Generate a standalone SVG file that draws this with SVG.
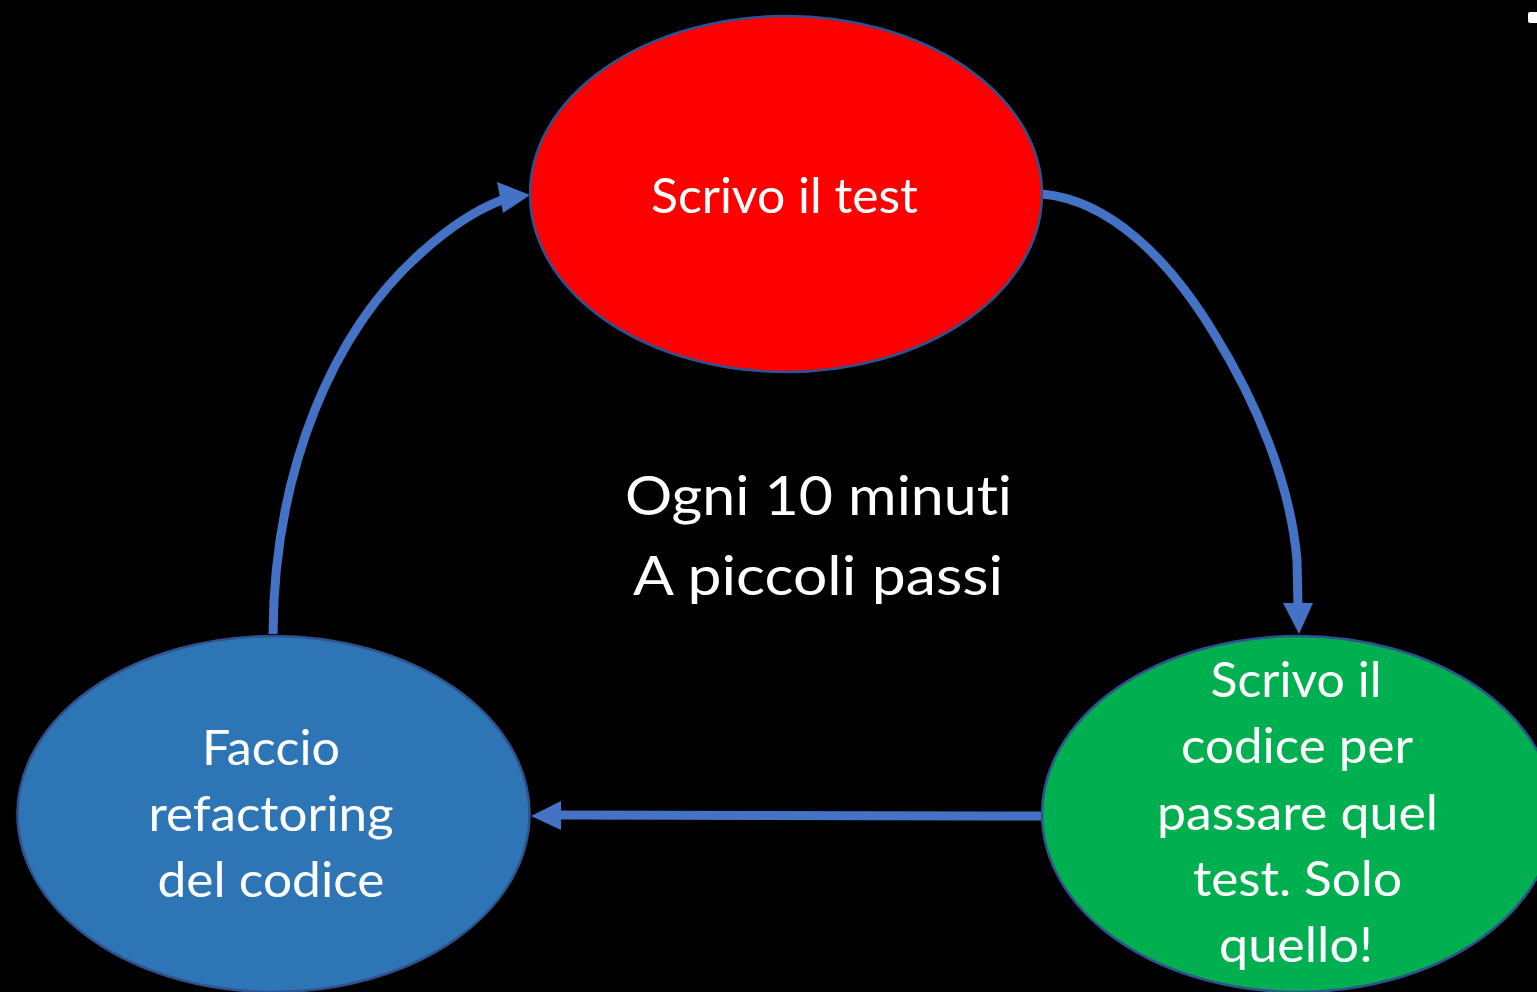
<svg xmlns="http://www.w3.org/2000/svg" width="1537" height="992" viewBox="0 0 1537 992">
<style>
.node{stroke:#2F528F;stroke-width:2.5}
.lbl{font-family:Lato,"Open Sans","Liberation Sans",sans-serif;fill:#FFFFFF;text-anchor:middle;font-size:48px;font-variant-ligatures:none;font-feature-settings:"liga" 0,"clig" 0}
.big{font-size:54px}
.conn{fill:none;stroke:#4472C4;stroke-width:9}
.head{fill:#4472C4}
</style>
<rect x="0" y="0" width="1537" height="992" fill="#000000"/>
<rect x="1528" y="12" width="12" height="11" rx="2" fill="#FFFFFF"/>
<g id="connectors">
  <path class="conn" d="M273,634 C274,470 333,330 422,252 C452,225 481,208 502,200"/>
  <polygon class="head" points="530,195 497,182 503,213"/>
  <path class="conn" d="M1042,194 C1110,200 1170,260 1215,335 C1255,400 1290,480 1297,560 L1298,606"/>
  <polygon class="head" points="1299,634 1283,603 1313,603"/>
  <path class="conn" d="M1042,816 L1000,816 L558,815"/>
  <polygon class="head" points="531,816 561,801 561,830"/>
</g>
<g id="node-test">
  <ellipse class="node" cx="786" cy="194" rx="256" ry="178" fill="#FF0000"/>
  <text class="lbl" x="784.5" y="213" textLength="267" lengthAdjust="spacingAndGlyphs">Scrivo il test</text>
</g>
<g id="node-refactor">
  <ellipse class="node" cx="273.5" cy="814" rx="256" ry="178" fill="#2E75B6"/>
  <text class="lbl" x="271" y="765" textLength="138" lengthAdjust="spacingAndGlyphs">Faccio</text>
  <text class="lbl" x="271" y="831" textLength="245" lengthAdjust="spacingAndGlyphs">refactoring</text>
  <text class="lbl" x="271" y="897" textLength="227" lengthAdjust="spacingAndGlyphs">del codice</text>
</g>
<g id="node-code">
  <ellipse class="node" cx="1298" cy="814" rx="256" ry="178" fill="#00B050"/>
  <text class="lbl" x="1296" y="697" textLength="171" lengthAdjust="spacingAndGlyphs">Scrivo il</text>
  <text class="lbl" x="1297" y="763" textLength="232" lengthAdjust="spacingAndGlyphs">codice per</text>
  <text class="lbl" x="1297.5" y="830" textLength="281" lengthAdjust="spacingAndGlyphs">passare quel</text>
  <text class="lbl" x="1297.5" y="896" textLength="209" lengthAdjust="spacingAndGlyphs">test. Solo</text>
  <text class="lbl" x="1296" y="962" textLength="154" lengthAdjust="spacingAndGlyphs">quello!</text>
</g>
<g id="center-label">
  <text class="lbl big" x="818.5" y="515" textLength="387" lengthAdjust="spacingAndGlyphs">Ogni 10 minuti</text>
  <text class="lbl big" x="818" y="595" textLength="370" lengthAdjust="spacingAndGlyphs">A piccoli passi</text>
</g>
</svg>
